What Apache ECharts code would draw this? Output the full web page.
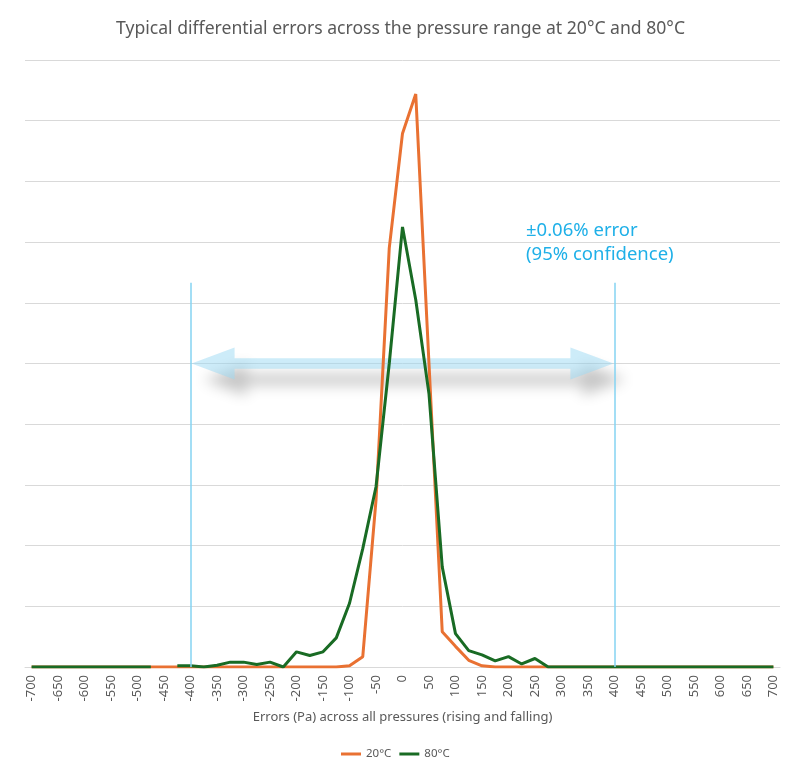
<!DOCTYPE html>
<html>
<head>
<meta charset="utf-8">
<script src="https://cdn.jsdelivr.net/npm/echarts@6/dist/echarts.min.js"></script>
<style>
html,body{margin:0;padding:0;background:#fff;}
#chart{width:801px;height:773px;}
</style>
</head>
<body>
<div id="chart"></div>
<script>
const categories = ['-700','-675','-650','-625','-600','-575','-550','-525','-500','-475','-450','-425','-400','-375','-350','-325','-300','-275','-250','-225','-200','-175','-150','-125','-100','-75','-50','-25','0','25','50','75','100','125','150','175','200','225','250','275','300','325','350','375','400','425','450','475','500','525','550','575','600','625','650','675','700'];
const series20C = [0,0,0,0,0,0,0,0,0,0,0,0,0,0,0,0,0,0,0,0,0,0,0,0,0.02,0.17,2.75,6.9,8.79,9.44,5.0,0.58,0.34,0.11,0.02,0,0,0,0,0,0,0,0,0,0,0,0,0,0,0,0,0,0,0,0,0,0];
const series80C = [0,0,0,0,0,0,0,0,0,0,null,0.02,0.02,0,0.03,0.08,0.08,0.04,0.08,0,0.25,0.19,0.25,0.48,1.05,1.95,2.97,5.0,7.25,6.05,4.5,1.65,0.55,0.27,0.2,0.1,0.17,0.05,0.14,0,0,0,0,0,0,0,0,0,0,0,0,0,0,0,0,0,0];
const seriesNames = ['20°C','80°C'];
const confidenceBounds = ['-400','400'];
const boundTop = 6.33;
const arrowLevel = 5.0;

const FONT = "'Noto Sans', sans-serif";
const chart = echarts.init(document.getElementById('chart'));
chart.setOption({
  animation: false,
  backgroundColor: '#ffffff',
  title: {
    text: 'Typical differential errors across the pressure range at 20°C and 80°C',
    left: 'center', top: 15,
    textStyle: {fontFamily: FONT, fontSize: 17.6, fontWeight: 'normal', color: '#595959'}
  },
  legend: {
    bottom: 8, left: 336,
    icon: 'rect', itemWidth: 20, itemHeight: 3, itemGap: 8,
    textStyle: {fontFamily: FONT, fontSize: 11.5, color: '#595959'},
    data: seriesNames
  },
  grid: {left: 25, right: 21, top: 60, bottom: 106},
  xAxis: {
    type: 'category', data: categories, boundaryGap: true,
    axisLine: {show: true, lineStyle: {color: '#d9d9d9', width: 1}},
    axisTick: {show: false},
    axisLabel: {interval: 1, rotate: 90, margin: 8, fontFamily: FONT, fontSize: 13, color: '#595959'},
    name: 'Errors (Pa) across all pressures (rising and falling)',
    nameLocation: 'middle', nameGap: 44,
    nameTextStyle: {fontFamily: FONT, fontSize: 13, color: '#595959'}
  },
  yAxis: {
    type: 'value', min: 0, max: 10, interval: 1,
    axisLine: {show: false}, axisTick: {show: false}, axisLabel: {show: false},
    splitLine: {lineStyle: {color: '#d9d9d9', width: 1}}
  },
  series: [
    {name: seriesNames[0], type: 'line', data: series20C, symbol: 'none', connectNulls: false,
     lineStyle: {color: '#E97132', width: 3}, itemStyle: {color: '#E97132'}, z: 3},
    {name: seriesNames[1], type: 'line', data: series80C, symbol: 'none', connectNulls: false,
     lineStyle: {color: '#196B24', width: 3}, itemStyle: {color: '#196B24'}, z: 4,
     markLine: {
       silent: true, symbol: ['none','none'], label: {show: false},
       lineStyle: {color: '#84d3f2', width: 1.5, type: 'solid'},
       data: confidenceBounds.map(c => [{coord: [c, boundTop]}, {coord: [c, 0]}])
     }}
  ]
});

const pL = chart.convertToPixel({xAxisIndex: 0, yAxisIndex: 0}, [confidenceBounds[0], arrowLevel]);
const pR = chart.convertToPixel({xAxisIndex: 0, yAxisIndex: 0}, [confidenceBounds[1], arrowLevel]);
const x1 = pL[0] + 1, x2 = pR[0] - 1, y = pL[1];
const head = 43, hh = 16, sh = 5.3;
chart.setOption({
  graphic: [
    {type: 'polygon', z: 1, silent: true,
     shape: {points: [[x1, y], [x1 + head, y - hh], [x1 + head, y - sh], [x2 - head, y - sh], [x2 - head, y - hh], [x2, y], [x2 - head, y + hh], [x2 - head, y + sh], [x1 + head, y + sh], [x1 + head, y + hh]]},
     style: {fill: 'rgba(155,218,243,0.5)', shadowColor: 'rgba(0,0,0,0.45)', shadowBlur: 14, shadowOffsetX: 12, shadowOffsetY: 16}},
    {type: 'text', left: 526, top: 219, silent: true,
     style: {text: '±0.06% error\n(95% confidence)', fill: '#1fb0e8', font: "18.5px 'Noto Sans', sans-serif", lineHeight: 24}}
  ]
});
</script>
</body>
</html>
